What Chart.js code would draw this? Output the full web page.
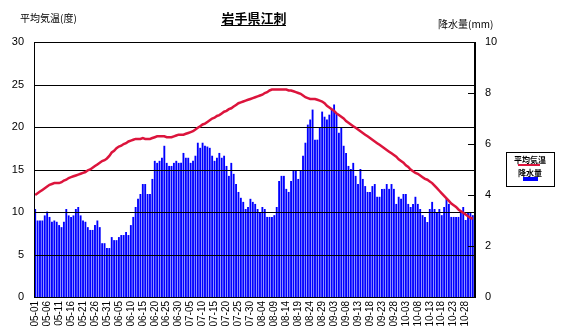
<!DOCTYPE html>
<html>
<head>
<meta charset="utf-8">
<title>岩手県江刺</title>
<script src="https://cdn.jsdelivr.net/npm/chart.js@4.4.1/dist/chart.umd.min.js"></script>
<style>
  html, body { margin: 0; padding: 0; background: #fff; }
  #chart { display: block; }
</style>
</head>
<body>
<canvas id="chart" width="567" height="334"></canvas>
<script>
// 5/1 - 10/31, one category per day
const months = [5, 6, 7, 8, 9, 10];
const monthDays = [31, 30, 31, 31, 30, 31];

const categories = [];
months.forEach((m, i) => {
    for (let d = 1; d <= monthDays[i]; d++) {
        categories.push(String(m).padStart(2, '0') + '-' + String(d).padStart(2, '0'));
    }
});

// 平均気温 (度)
const temperature = [
    12.0, 12.2, 12.4, 12.6, 12.8, 13.0, 13.2, 13.3, 13.4, 13.4,
    13.4, 13.5, 13.7, 13.8, 14.0, 14.1, 14.2, 14.3, 14.4, 14.5,
    14.6, 14.7, 14.9, 15.0, 15.2, 15.4, 15.6, 15.8, 16.0, 16.1,
    16.3, 16.6, 17.0, 17.2, 17.5, 17.7, 17.8, 18.0, 18.1, 18.3,
    18.4, 18.5, 18.6, 18.6, 18.6, 18.7, 18.6, 18.6, 18.6, 18.7,
    18.8, 18.9, 18.9, 18.9, 18.9, 18.8, 18.8, 18.8, 18.9, 19.0,
    19.1, 19.1, 19.1, 19.2, 19.3, 19.4, 19.5, 19.7, 19.9, 20.1,
    20.3, 20.4, 20.6, 20.8, 21.0, 21.1, 21.3, 21.4, 21.6, 21.8,
    21.9, 22.1, 22.2, 22.4, 22.6, 22.8, 22.9, 23.0, 23.1, 23.2,
    23.3, 23.4, 23.5, 23.6, 23.7, 23.8, 24.0, 24.1, 24.3, 24.4,
    24.4, 24.4, 24.4, 24.4, 24.4, 24.4, 24.3, 24.3, 24.2, 24.1,
    24.0, 23.9, 23.7, 23.5, 23.4, 23.3, 23.3, 23.3, 23.2, 23.1,
    23.0, 22.8, 22.5, 22.3, 22.1, 21.9, 21.6, 21.4, 21.2, 21.0,
    20.7, 20.5, 20.3, 20.1, 19.9, 19.7, 19.5, 19.3, 19.1, 18.9,
    18.7, 18.5, 18.3, 18.1, 17.9, 17.7, 17.5, 17.3, 17.1, 16.9,
    16.7, 16.5, 16.2, 16.0, 15.8, 15.5, 15.3, 15.0, 14.8, 14.6,
    14.5, 14.3, 14.1, 13.9, 13.8, 13.6, 13.4, 13.1, 12.8, 12.5,
    12.2, 11.9, 11.6, 11.3, 11.0, 10.8, 10.6, 10.3, 10.1, 9.9,
    9.7, 9.5, 9.3, 9.2
];

// 降水量 (mm)
const precipitation = [
    3.45, 3.00, 3.00, 3.00, 3.20, 3.35, 3.14, 2.95, 3.00, 2.95,
    2.82, 2.74, 2.95, 3.45, 3.20, 3.14, 3.20, 3.45, 3.53, 3.20,
    3.00, 2.95, 2.74, 2.63, 2.63, 2.82, 3.00, 2.74, 2.11, 2.11,
    1.92, 1.92, 2.35, 2.23, 2.23, 2.35, 2.43, 2.43, 2.55, 2.43,
    2.82, 3.14, 3.53, 3.85, 4.04, 4.43, 4.43, 4.04, 4.04, 4.63,
    5.34, 5.26, 5.34, 5.46, 5.93, 5.26, 5.14, 5.14, 5.26, 5.34,
    5.26, 5.26, 5.65, 5.46, 5.46, 5.26, 5.34, 5.54, 6.05, 5.85,
    6.05, 5.93, 5.90, 5.85, 5.54, 5.34, 5.46, 5.65, 5.46, 5.54,
    5.14, 4.75, 5.26, 4.83, 4.43, 4.12, 3.89, 3.73, 3.45, 3.53,
    3.85, 3.73, 3.65, 3.45, 3.33, 3.53, 3.45, 3.14, 3.14, 3.14,
    3.21, 3.53, 4.55, 4.75, 4.75, 4.24, 4.12, 4.55, 4.95, 4.95,
    4.63, 4.95, 5.54, 6.05, 6.76, 6.96, 7.35, 6.17, 6.17, 6.64,
    7.27, 7.07, 6.96, 7.15, 7.35, 7.55, 7.19, 6.44, 6.64, 5.93,
    5.65, 5.14, 5.02, 5.26, 4.75, 4.43, 5.02, 4.63, 4.35, 4.12,
    4.12, 4.35, 4.43, 3.93, 3.93, 4.24, 4.24, 4.43, 4.24, 4.43,
    4.24, 3.65, 3.93, 3.85, 4.04, 4.04, 3.65, 3.53, 3.65, 3.93,
    3.65, 3.45, 3.21, 3.14, 2.94, 3.45, 3.73, 3.45, 3.33, 3.45,
    3.21, 3.53, 3.85, 3.65, 3.14, 3.14, 3.14, 3.14, 3.33, 3.53,
    3.02, 3.33, 3.33, 3.21
];

const tempTicks = [0, 5, 10, 15, 20, 25, 30];
const rainTicks = [0, 2, 4, 6, 8, 10];

const jpFont = '"Noto Sans CJK JP", sans-serif';
const numFont = '"Liberation Sans", Arial, sans-serif';

// grid lines sit above the bars but under the temperature line,
// frame, right-side tick marks, titles and the boxed legend are drawn by hand
const decorations = {
    id: 'decorations',
    beforeDatasetDraw(chart, args) {
        if (args.index !== 0) return;
        const { ctx, chartArea: a, scales: { y } } = chart;
        ctx.save();
        ctx.strokeStyle = '#000';
        ctx.lineWidth = 1;
        tempTicks.forEach(v => {
            if (v === 0 || v === 30) return;
            const py = Math.round(y.getPixelForValue(v)) + 0.5;
            ctx.beginPath();
            ctx.moveTo(a.left, py);
            ctx.lineTo(a.right, py);
            ctx.stroke();
        });
        ctx.restore();
    },
    afterDatasetsDraw(chart) {
        const { ctx, chartArea: a, scales: { y1 } } = chart;
        ctx.save();
        ctx.strokeStyle = '#000';
        ctx.lineWidth = 1;
        ctx.beginPath();
        ctx.moveTo(a.left + 0.5, Math.round(a.top) + 0.5);
        ctx.lineTo(a.right, Math.round(a.top) + 0.5);
        ctx.moveTo(a.left + 0.5, a.top);
        ctx.lineTo(a.left + 0.5, a.bottom);
        ctx.moveTo(a.left, Math.round(a.bottom) + 0.5);
        ctx.lineTo(a.right, Math.round(a.bottom) + 0.5);
        ctx.stroke();

        ctx.lineWidth = 2;
        ctx.beginPath();
        ctx.moveTo(a.right + 1, a.top);
        ctx.lineTo(a.right + 1, a.bottom + 1);
        ctx.stroke();

        ctx.lineWidth = 1;
        rainTicks.forEach(v => {
            if (v === 0 || v === 10) return;
            const py = Math.round(y1.getPixelForValue(v)) + 0.5;
            ctx.beginPath();
            ctx.moveTo(a.right - 6, py);
            ctx.lineTo(a.right, py);
            ctx.stroke();
        });
        ctx.restore();
    },
    afterDraw(chart) {
        const { ctx, chartArea: a, data } = chart;
        ctx.save();
        ctx.fillStyle = '#000';
        ctx.textBaseline = 'middle';

        // title, underlined
        const title = '岩手県江刺';
        const cx = (a.left + a.right) / 2;
        ctx.font = 'bold 13px ' + jpFont;
        ctx.textAlign = 'center';
        ctx.fillText(title, cx, 18);
        const tw = ctx.measureText(title).width;
        ctx.fillRect(Math.round(cx - tw / 2), 25, Math.round(tw), 1);

        // axis titles
        ctx.font = '10px ' + jpFont;
        ctx.textAlign = 'left';
        ctx.fillText('平均気温(度)', 20, 18);
        ctx.fillText('降水量(mm)', 438, 24);

        // legend box
        const bx = 506, by = 152, bw = 48, bh = 34;
        ctx.fillStyle = '#fff';
        ctx.fillRect(bx, by, bw, bh);
        ctx.strokeStyle = '#000';
        ctx.lineWidth = 1;
        ctx.strokeRect(bx + 0.5, by + 0.5, bw, bh);

        ctx.fillStyle = '#000';
        ctx.textAlign = 'center';
        ctx.font = 'bold 8px ' + jpFont;
        ctx.fillText(data.datasets[0].label, bx + bw / 2, by + 8);
        ctx.fillStyle = data.datasets[0].borderColor;
        ctx.fillRect(bx + 12, by + 12, 22, 2);

        ctx.fillStyle = '#000';
        ctx.fillText(data.datasets[1].label, bx + bw / 2, by + 21);
        ctx.fillStyle = data.datasets[1].backgroundColor;
        ctx.fillRect(bx + 17, by + 25, 15, 4);
        ctx.restore();
    }
};

const ctx = document.getElementById('chart');

const data = {
    labels: categories,
    datasets: [
        {
            type: 'line',
            label: '平均気温',
            data: temperature,
            yAxisID: 'y',
            borderColor: '#dc143c',
            borderWidth: 2.5,
            pointRadius: 0,
            tension: 0
        },
        {
            type: 'bar',
            label: '降水量',
            data: precipitation,
            yAxisID: 'y1',
            backgroundColor: '#0000ff',
            barPercentage: 0.78,
            categoryPercentage: 1
        }
    ]
};

const options = {
    responsive: false,
    animation: false,
    devicePixelRatio: 1,
    layout: {
        padding: { top: 42, right: 63, bottom: 0, left: 0 }
    },
    plugins: {
        legend: { display: false },
        title: { display: false },
        tooltip: { enabled: false }
    },
    scales: {
        x: {
            grid: { display: false, drawTicks: false },
            border: { display: false },
            ticks: {
                autoSkip: false,
                maxRotation: 90,
                minRotation: 90,
                padding: 4,
                color: '#000',
                font: { family: numFont, size: 10 },
                callback: (value, index) => index % 5 === 0 ? categories[index] : ''
            },
            afterFit: (scale) => { scale.height = 37; }
        },
        y: {
            position: 'left',
            min: 0,
            max: 30,
            afterBuildTicks: (scale) => { scale.ticks = tempTicks.map(v => ({ value: v })); },
            grid: { display: false, drawTicks: false },
            border: { display: false },
            ticks: {
                padding: 10,
                color: '#000',
                font: { family: numFont, size: 11 }
            },
            afterFit: (scale) => { scale.width = 34; }
        },
        y1: {
            position: 'right',
            min: 0,
            max: 10,
            afterBuildTicks: (scale) => { scale.ticks = rainTicks.map(v => ({ value: v })); },
            grid: { display: false, drawTicks: false },
            border: { display: false },
            ticks: {
                padding: 11,
                color: '#000',
                font: { family: numFont, size: 11 }
            },
            afterFit: (scale) => { scale.width = 30; }
        }
    }
};

new Chart(ctx, {
    data: data,
    options: options,
    plugins: [decorations]
});
</script>
</body>
</html>
